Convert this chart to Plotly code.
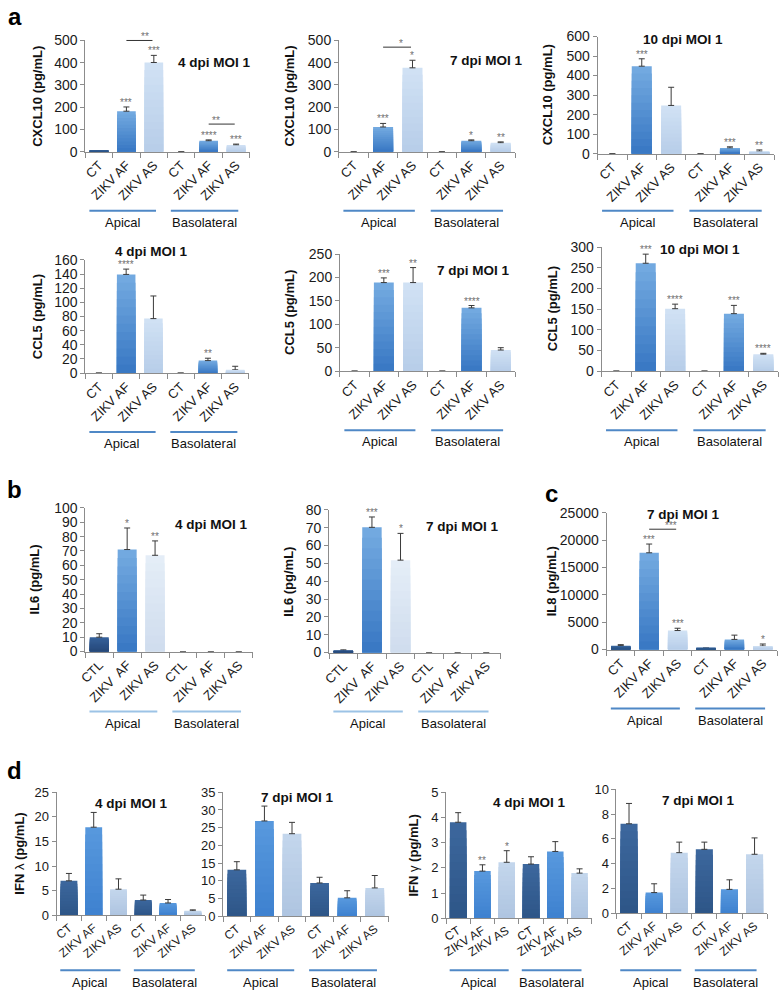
import plotly.graph_objects as go

W, H = 780, 1001
FONT = "Liberation Sans, Arial, sans-serif"

CATS_A = ["CT", "ZIKV AF", "ZIKV AS"]
CATS_B = ["CTL", "ZIKV  AF", "ZIKV AS"]
GROUPS = ["Apical", "Basolateral"]

# ---------------- panel a : CXCL10 ----------------
cxcl10_4dpi = [3, 182, 401, 0, 49, 30]
cxcl10_4dpi_err = [1, 19, 32, 0, 4, 4]
cxcl10_4dpi_sig = ["", "***", "***", "", "****", "***"]

cxcl10_7dpi = [0, 111, 377, 0, 49, 40]
cxcl10_7dpi_err = [0, 16, 34, 0, 4, 4]
cxcl10_7dpi_sig = ["", "***", "*", "", "*", "**"]

cxcl10_10dpi = [0, 448, 247, 0, 29, 12]
cxcl10_10dpi_err = [0, 38, 93, 0, 6, 7]
cxcl10_10dpi_sig = ["", "***", "", "", "***", "**"]

# ---------------- panel a : CCL5 ----------------
ccl5_4dpi = [0, 139.5, 77, 0, 17.6, 4.6]
ccl5_4dpi_err = [0, 7.5, 32, 0, 3.4, 5]
ccl5_4dpi_sig = ["", "****", "", "", "**", ""]

ccl5_7dpi = [0, 189, 189, 0, 135, 45]
ccl5_7dpi_err = [0, 10, 32, 0, 5, 5]
ccl5_7dpi_sig = ["", "***", "**", "", "****", ""]

ccl5_10dpi = [0, 261, 151, 0, 139, 41]
ccl5_10dpi_err = [0, 22, 11, 0, 20, 2]
ccl5_10dpi_sig = ["", "***", "****", "", "***", "****"]

# ---------------- panel b : IL6 ----------------
il6_4dpi = [10, 71, 67, 0, 0, 0]
il6_4dpi_err = [2.4, 15, 10, 0, 0, 0]
il6_4dpi_sig = ["", "*", "**", "", "", ""]

il6_7dpi = [0.9, 70.2, 51.8, 0, 0, 0]
il6_7dpi_err = [0.6, 5.8, 15, 0, 0, 0]
il6_7dpi_sig = ["", "***", "*", "", "", ""]

# ---------------- panel c : IL8 ----------------
il8_7dpi = [720, 17690, 3480, 180, 1860, 660]
il8_7dpi_err = [180, 1600, 420, 120, 780, 360]
il8_7dpi_sig = ["", "***", "***", "", "", "*"]

# ---------------- panel d : IFN ----------------
ifnl_4dpi = [7.0, 17.9, 5.3, 3.1, 2.5, 0.9]
ifnl_4dpi_err = [1.5, 3.0, 2.1, 1.0, 0.7, 0.2]

ifnl_7dpi = [13.1, 26.9, 23.3, 9.4, 5.2, 8.0]
ifnl_7dpi_err = [2.3, 4.2, 3.2, 1.6, 2.0, 3.5]

ifng_4dpi = [3.81, 1.87, 2.22, 2.15, 2.65, 1.79]
ifng_4dpi_err = [0.38, 0.25, 0.46, 0.29, 0.39, 0.17]
ifng_4dpi_sig = ["", "**", "*", "", "", ""]

ifng_7dpi = [7.22, 1.67, 4.89, 5.16, 1.93, 4.76]
ifng_7dpi_err = [1.64, 0.71, 0.85, 0.58, 0.77, 1.32]

NO_SIG = [""] * 6

# significance brackets: (from category, to category, value, label)
cxcl10_4dpi_brackets = [(1, 2, 500, "**"), (4, 5, 124, "**")]
cxcl10_7dpi_brackets = [(1, 2, 470, "*")]
il8_7dpi_brackets = [(1, 2, 22000, "***")]

# ---------------- styles ----------------
# (top colour, bottom colour) of each bar type: CT, ZIKV AF, ZIKV AS
PAL_A = [("#3a68a0", "#2a5386"), ("#72a9e0", "#3a79c4"), ("#d0e1f4", "#b8cee9")]
PAL_B = [("#35609a", "#26497a"), ("#72a9e0", "#3a79c4"), ("#e4edf7", "#d0ddee")]
PAL_D = [("#3c679d", "#2e5688"), ("#5798dd", "#3f82d0"), ("#c3d6ec", "#afc5e1")]
LINE_A = "#4f88c6"
LINE_B = "#9cc3e6"
AXC = "#8c8c8c"
NL = 12  # gradient layers

charts = [
    dict(v=cxcl10_4dpi, e=cxcl10_4dpi_err, s=cxcl10_4dpi_sig, cats=CATS_A, ymax=500, dt=100,
         box=(79, 245, 33, 146), yt="CXCL10 (pg/mL)", ytx=30, title="4 dpi MOI 1", tp=(209, 55),
         ang=-45, pal=PAL_A, gl=LINE_A, br=cxcl10_4dpi_brackets, fs=13, goff=60),
    dict(v=cxcl10_7dpi, e=cxcl10_7dpi_err, s=cxcl10_7dpi_sig, cats=CATS_A, ymax=500, dt=100,
         box=(335, 513, 33, 146), yt="CXCL10 (pg/mL)", ytx=285, title="7 dpi MOI 1", tp=(484, 53),
         ang=-45, pal=PAL_A, gl=LINE_A, br=cxcl10_7dpi_brackets, fs=13, goff=60),
    dict(v=cxcl10_10dpi, e=cxcl10_10dpi_err, s=cxcl10_10dpi_sig, cats=CATS_A, ymax=600, dt=100,
         box=(596, 774, 29, 148), yt="CXCL10 (pg/mL)", ytx=545, title="10 dpi MOI 1", tp=(682, 32),
         ang=-45, pal=PAL_A, gl=LINE_A, br=[], fs=13, goff=58),
    dict(v=ccl5_4dpi, e=ccl5_4dpi_err, s=ccl5_4dpi_sig, cats=CATS_A, ymax=160, dt=20,
         box=(79, 244, 256, 371), yt="CCL5 (pg/mL)", ytx=31, title="4 dpi MOI 1", tp=(146, 247),
         ang=-45, pal=PAL_A, gl=LINE_A, br=[], fs=13, goff=60),
    dict(v=ccl5_7dpi, e=ccl5_7dpi_err, s=ccl5_7dpi_sig, cats=CATS_A, ymax=250, dt=50,
         box=(336, 513, 250, 369), yt="CCL5 (pg/mL)", ytx=285, title="7 dpi MOI 1", tp=(471, 267),
         ang=-45, pal=PAL_A, gl=LINE_A, br=[], fs=13, goff=60),
    dict(v=ccl5_10dpi, e=ccl5_10dpi_err, s=ccl5_10dpi_sig, cats=CATS_A, ymax=300, dt=50,
         box=(600, 778, 243, 369), yt="CCL5 (pg/mL)", ytx=550, title="10 dpi MOI 1", tp=(699, 245),
         ang=-45, pal=PAL_A, gl=LINE_A, br=[], fs=13, goff=60),
    dict(v=il6_4dpi, e=il6_4dpi_err, s=il6_4dpi_sig, cats=CATS_B, ymax=100, dt=10,
         box=(79, 248, 508, 654), yt="IL6 (pg/mL)", ytx=28, title="4 dpi MOI 1", tp=(206, 525),
         ang=-45, pal=PAL_B, gl=LINE_B, br=[], fs=13, goff=61),
    dict(v=il6_7dpi, e=il6_7dpi_err, s=il6_7dpi_sig, cats=CATS_B, ymax=80, dt=10,
         box=(325, 498, 510, 655), yt="IL6 (pg/mL)", ytx=284, title="7 dpi MOI 1", tp=(460, 527),
         ang=-45, pal=PAL_B, gl=LINE_B, br=[], fs=13, goff=60),
    dict(v=il8_7dpi, e=il8_7dpi_err, s=il8_7dpi_sig, cats=CATS_A, ymax=25000, dt=5000,
         box=(605, 777, 513, 652), yt="IL8 (pg/mL)", ytx=549, title="7 dpi MOI 1", tp=(683, 515),
         ang=-45, pal=PAL_A, gl=LINE_A, br=il8_7dpi_brackets, fs=13, goff=60),
    dict(v=ifnl_4dpi, e=ifnl_4dpi_err, s=NO_SIG, cats=CATS_A, ymax=25, dt=5,
         box=(50, 200, 797, 922), yt="<b>IFN </b>λ<b> (pg/mL)</b>", ytx=13, title="4 dpi MOI 1",
         tp=(126, 808), ang=-40, pal=PAL_D, gl=LINE_A, br=[], fs=12, goff=56),
    dict(v=ifnl_7dpi, e=ifnl_7dpi_err, s=NO_SIG, cats=CATS_A, ymax=35, dt=5,
         box=(218, 385, 797, 923), yt=None, ytx=0, title="7 dpi MOI 1",
         tp=(293, 802), ang=-40, pal=PAL_D, gl=LINE_A, br=[], fs=12, goff=55),
    dict(v=ifng_4dpi, e=ifng_4dpi_err, s=ifng_4dpi_sig, cats=CATS_A, ymax=5, dt=1,
         box=(443, 590, 797, 925), yt="<b>IFN </b>γ<b> (pg/mL)</b>", ytx=410, title="4 dpi MOI 1",
         tp=(527, 807), ang=-32, pal=PAL_D, gl=LINE_A, br=[], fs=12, goff=53),
    dict(v=ifng_7dpi, e=ifng_7dpi_err, s=NO_SIG, cats=CATS_A, ymax=10, dt=2,
         box=(615, 767, 794, 920), yt=None, ytx=0, title="7 dpi MOI 1",
         tp=(698, 805), ang=-40, pal=PAL_D, gl=LINE_A, br=[], fs=12, goff=58),
]

GROUP_SPANS = [(0.025, 0.43), (0.52, 0.93)]


def mix(c1, c2, t):
    a = [int(c1[i:i + 2], 16) for i in (1, 3, 5)]
    b = [int(c2[i:i + 2], 16) for i in (1, 3, 5)]
    return "#" + "".join("%02x" % round(a[j] + (b[j] - a[j]) * t) for j in range(3))


fig = go.Figure()
layout = dict(width=W, height=H, margin=dict(l=0, r=0, t=0, b=0), showlegend=False,
              paper_bgcolor="white", plot_bgcolor="white", barmode="overlay",
              hovermode=False, font=dict(family=FONT, color="#1a1a1a"))
annotations = []
shapes = []


def px(x):
    return x / W


def py(y):
    return 1 - y / H


for i, c in enumerate(charts):
    n = i + 1
    sfx = "" if n == 1 else str(n)
    xr, yr = "x" + sfx, "y" + sfx
    x0, x1, y0, y1 = c["box"]
    labels = c["cats"] * 2
    xs = list(range(len(labels)))
    pal = c["pal"] * 2
    errs = [e if e > 0 else None for e in c["e"]]
    # gradient: stacked-over layers, each shorter and darker
    for layer in range(NL):
        frac = 1 - layer / NL
        t = layer / (NL - 1)
        ys = [v * frac for v in c["v"]]
        cols = [mix(top, bot, t) for top, bot in pal]
        kw = {}
        if layer == 0:
            kw["error_y"] = dict(type="data", array=errs, arrayminus=[0] * 6, symmetric=False,
                                 color="#3a3a3a", thickness=1, width=3)
        fig.add_trace(go.Bar(
            x=xs, y=ys, width=0.68, marker=dict(color=cols, line=dict(width=0)),
            xaxis=xr, yaxis=yr, hoverinfo="skip", **kw))
    layout["xaxis" + sfx] = dict(
        domain=[px(x0), px(x1)], anchor=yr, range=[-0.5, 5.5], tickmode="array",
        tickvals=xs, ticktext=labels, tickangle=c["ang"], ticks="", showline=True,
        linecolor=AXC, linewidth=1, showgrid=False, zeroline=False, fixedrange=True,
        tickfont=dict(size=c["fs"], color="#1a1a1a"),
        minor=dict(tickmode="array", tickvals=[k - 0.5 for k in range(7)], ticks="outside",
                   ticklen=5, tickcolor=AXC, tickwidth=1, showgrid=False))
    layout["yaxis" + sfx] = dict(
        domain=[py(y1), py(y0)], anchor=xr, range=[0, c["ymax"]], tick0=0, dtick=c["dt"],
        tickformat="d", fixedrange=True,
        ticks="outside", ticklen=4, tickcolor=AXC, showline=True, linecolor=AXC, linewidth=1,
        showgrid=False, zeroline=False, tickfont=dict(size=c["fs"] + 1, color="#1a1a1a"))
    # y-axis title
    if c["yt"]:
        txt = c["yt"] if c["yt"].startswith("<b>") else "<b>" + c["yt"] + "</b>"
        annotations.append(dict(text=txt, x=px(c["ytx"]), y=py((y0 + y1) / 2), xref="paper",
                                yref="paper", textangle=-90, showarrow=False,
                                font=dict(size=13, color="#111"), xanchor="center",
                                yanchor="middle"))
    # chart title
    annotations.append(dict(text="<b>" + c["title"] + "</b>", x=px(c["tp"][0]), y=py(c["tp"][1]),
                            xref="paper", yref="paper", showarrow=False,
                            font=dict(size=13.5, color="#111"), xanchor="center",
                            yanchor="middle"))
    # significance stars
    for k, (val, er, st) in enumerate(zip(c["v"], c["e"], c["s"])):
        if st:
            annotations.append(dict(text=st, x=k, y=val + er, xref=xr, yref=yr,
                                    showarrow=False, yanchor="bottom", yshift=-3,
                                    font=dict(size=10, color="#707070")))
    # brackets
    for a, b, yv, st in c["br"]:
        xa, xb = (a + 0.5) / 6, (b + 0.45) / 6
        yy = yv / c["ymax"]
        shapes.append(dict(type="line", xref=xr + " domain", yref=yr + " domain",
                           x0=xa, x1=xb, y0=yy, y1=yy, line=dict(color="#333", width=1)))
        annotations.append(dict(text=st, x=(xa + xb) / 2, y=yy, xref=xr + " domain",
                                yref=yr + " domain", showarrow=False, yanchor="bottom",
                                yshift=-4, font=dict(size=10, color="#707070")))
    # group lines and labels
    ly = y1 + c["goff"]
    for (ga, gb), gname in zip(GROUP_SPANS, GROUPS):
        fx0 = px(x0 + ga * (x1 - x0))
        fx1 = px(x0 + gb * (x1 - x0))
        shapes.append(dict(type="line", xref="paper", yref="paper", x0=fx0, x1=fx1,
                           y0=py(ly), y1=py(ly), line=dict(color=c["gl"], width=2)))
        annotations.append(dict(text=gname, x=(fx0 + fx1) / 2, y=py(ly + 12), xref="paper",
                                yref="paper", showarrow=False, xanchor="center",
                                yanchor="middle", font=dict(size=13, color="#111")))

# panel letters
for letter, (lx, ly) in zip(["a", "b", "c", "d"], [(8, 9), (8, 489), (549, 493), (8, 775)]):
    annotations.append(dict(text="<b>" + letter + "</b>", x=px(lx), y=py(ly), xref="paper",
                            yref="paper", showarrow=False, xanchor="center", yanchor="middle",
                            font=dict(size=24, color="#000")))

layout["annotations"] = annotations
layout["shapes"] = shapes
fig.update_layout(**layout)
fig.write_html("out.html", config={"displayModeBar": False},
               post_script="document.body.style.margin='0';")
